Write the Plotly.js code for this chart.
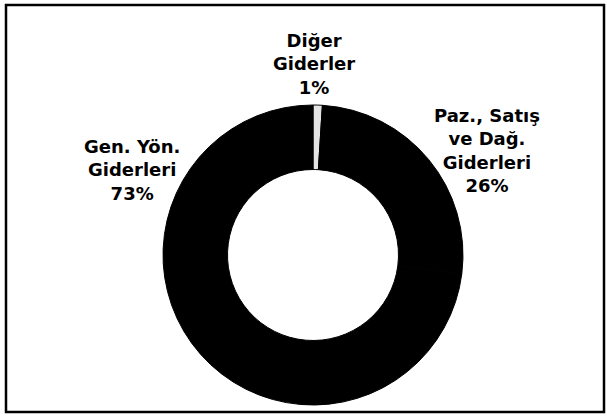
<!DOCTYPE html>
<html>
<head>
<meta charset="utf-8">
<script src="https://cdn.plot.ly/plotly-3.0.1.min.js"></script>
<style>html,body{margin:0;padding:0;background:#fff;}#chart{width:607px;height:419px;}</style>
</head>
<body>
<div id="chart"></div>
<script>
const categories = ['Diğer<br>Giderler', 'Paz., Satış<br>ve Dağ.<br>Giderleri', 'Gen. Yön.<br>Giderleri'];
const values = [1, 26, 73];
const sliceColors = ['#e4e4e4', '#000000', '#000000'];
const labelPos = [[314, 64], [487, 150], [132, 170]];

const W = 607, H = 419;
const annotations = categories.map((c, i) => ({
  text: c + '<br>' + values[i] + '%',
  xref: 'paper', yref: 'paper',
  x: labelPos[i][0] / W, y: 1 - labelPos[i][1] / H,
  xanchor: 'center', yanchor: 'middle',
  showarrow: false,
  font: {family: 'DejaVu Sans', size: 18, color: '#000', weight: 'bold'}
}));

const trace = {
  type: 'pie',
  labels: categories,
  values: values,
  hole: 0.57,
  sort: false,
  direction: 'clockwise',
  rotation: 0,
  textinfo: 'none',
  hoverinfo: 'label+percent',
  marker: {colors: sliceColors, line: {color: '#000', width: 1}},
  domain: {x: [163 / W, 463 / W], y: [1 - 406 / H, 1 - 104 / H]},
  showlegend: false
};

const layout = {
  width: W, height: H,
  margin: {l: 0, r: 0, t: 0, b: 0},
  paper_bgcolor: '#fff',
  showlegend: false,
  annotations: annotations,
  shapes: [{
    type: 'rect', xref: 'paper', yref: 'paper',
    x0: 6 / W, x1: 604 / W, y0: 1 - 412 / H, y1: 1 - 5 / H,
    line: {color: '#000', width: 2.5}
  }]
};

Plotly.newPlot('chart', [trace], layout, {displayModeBar: false, staticPlot: true});
</script>
</body>
</html>
